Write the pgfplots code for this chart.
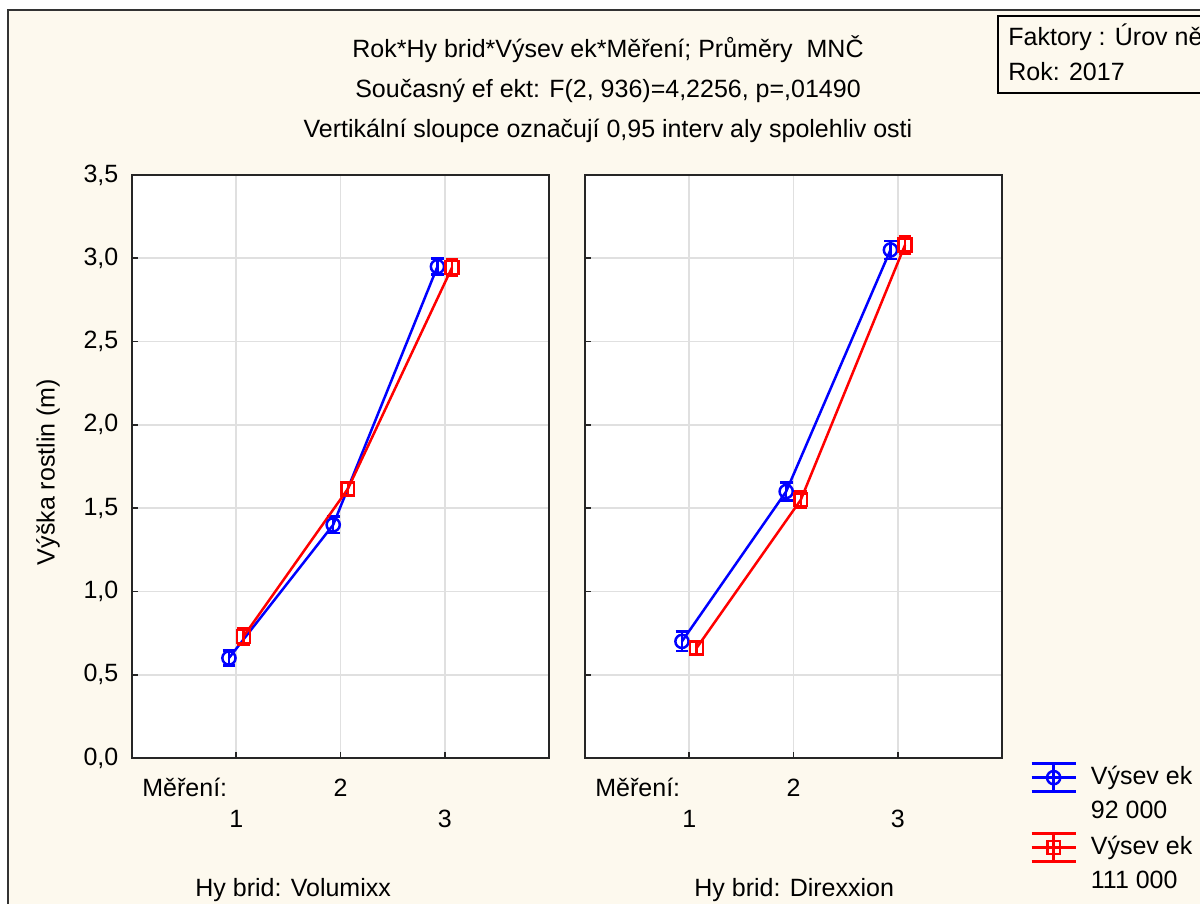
\documentclass[border=0pt]{standalone}
\usepackage{fontspec}
\setmainfont{Liberation Sans}
\usepackage{pgfplots}
\usepackage{pgfplotstable}
\pgfplotsset{compat=1.18}
\definecolor{cream}{RGB}{253,249,238}
\definecolor{gridc}{RGB}{224,224,224}
\newcommand{\fs}{\fontsize{12.5}{16}\selectfont}
\newcommand{\fsl}{\fontsize{12.5}{17}\selectfont}

\pgfplotstableread{
x y e
0.93 0.600 0.044
1.93 1.400 0.050
2.93 2.950 0.048
}\vbl
\pgfplotstableread{
x y e
1.07 0.730 0.048
2.07 1.615 0.040
3.07 2.945 0.050
}\vrl
\pgfplotstableread{
x y e
0.93 0.700 0.058
1.93 1.600 0.054
2.93 3.050 0.053
}\dbl
\pgfplotstableread{
x y e
1.07 0.660 0.042
2.07 1.550 0.050
3.07 3.080 0.052
}\drl

\pgfplotsset{
  panel/.style={
    scale only axis, width=208.5pt, height=291.5pt,
    xmin=0, xmax=4, ymin=0, ymax=3.5,
    xtick={1,2,3}, xticklabels={},
    ytick={0,0.5,1,1.5,2,2.5,3,3.5},
    grid=major, major grid style={gridc, line width=0.9pt},
    axis line style={line width=1.1pt, black!85},
    tick style={line width=0.9pt, black!85},
    tick align=inside, major tick length=3pt,
    xtick pos=bottom, ytick pos=left,
    axis background/.style={fill=white},
    tick label style={font=\fs},
    y tick label style={xshift=-3.3pt, /pgf/number format/.cd, fixed, fixed zerofill, precision=1, use comma, assume math mode=true},
    clip=false,
  },
  ser/.style={#1, line width=1.25pt, mark options={solid, line width=1.25pt},
    error bars/y dir=both, error bars/y explicit,
    error bars/error bar style={line width=1.25pt, #1},
    error bars/error mark options={rotate=90, mark size=3.2pt, line width=1.25pt, #1}},
  errleg/.style={legend image code/.code={%
    \draw[##1,mark=none] (0pt,8pt) -- (22pt,8pt);
    \draw[##1,mark=none] (0pt,15pt) -- (22pt,15pt);
    \draw[##1,mark=none] (0pt,1pt) -- (22pt,1pt);
    \draw[##1,mark=none] (11pt,1pt) -- (11pt,15pt);
    \draw[##1] plot coordinates {(11pt,8pt)};
  }},
}

\begin{document}
\begin{tikzpicture}
\useasboundingbox (0,0) rectangle (600pt,452pt);
\fill[white] (0,0) rectangle (600pt,452pt);
\fill[cream] (4pt,0) rectangle (600pt,447pt);
\draw[line width=1pt, black!80] (4pt,0) -- (4pt,447pt) -- (600pt,447pt);

% factors box
\draw[line width=1.3pt, black, fill=cream] (499pt,405.5pt) rectangle (620pt,444pt);
\node[font=\fs, anchor=base west, inner sep=0pt] at (504pt,429pt) {Faktory : Úrov ně};
\node[font=\fs, anchor=base west, inner sep=0pt] at (504pt,411.5pt) {Rok: 2017};

% titles
\node[font=\fs, anchor=base, inner sep=0pt] at (304pt,423.25pt) {Rok*Hy brid*Výsev ek*Měření; Průměry\ \ MNČ};
\node[font=\fs, anchor=base, inner sep=0pt] at (304pt,403.25pt) {Současný ef ekt: F(2, 936)=4,2256, p=,01490};
\node[font=\fs, anchor=base, inner sep=0pt] at (304pt,383.25pt) {Vertikální sloupce označují 0,95 interv aly spolehliv osti};

% y label
\node[font=\fs, rotate=90, inner sep=0pt] at (24pt,216pt) {Výška rostlin (m)};

\begin{axis}[panel, at={(66pt,73pt)}, anchor=south west]
\addplot[mark=o, mark size=3.3pt, ser=blue] table[x=x, y=y, y error=e] {\vbl};
\addplot[mark=square, mark size=3.2pt, ser=red] table[x=x, y=y, y error=e] {\vrl};
\node[font=\fs, anchor=base west, inner sep=0pt] at (rel axis cs:0,0) [xshift=5pt, yshift=-19.5pt] {Měření:};
\node[font=\fs, anchor=base, inner sep=0pt] at (axis cs:2,0) [yshift=-19.5pt] {2};
\node[font=\fs, anchor=base, inner sep=0pt] at (axis cs:1,0) [yshift=-35pt] {1};
\node[font=\fs, anchor=base, inner sep=0pt] at (axis cs:3,0) [yshift=-35pt] {3};
\node[font=\fs, anchor=base west, inner sep=0pt] at (rel axis cs:0,0) [xshift=31.5pt, yshift=-69.5pt] {Hy brid: Volumixx};
\end{axis}

\begin{axis}[panel, at={(292.5pt,73pt)}, anchor=south west, yticklabels={},
  legend style={at={(1,0)}, anchor=north west, xshift=14pt, yshift=-2pt,
    draw=none, fill=none, inner sep=0pt, font=\fsl,
    nodes={align=left, inner sep=0pt}, row sep=5.5pt, column sep=7pt},
  legend cell align=left]
\addplot[mark=o, mark size=3.3pt, ser=blue, errleg] table[x=x, y=y, y error=e] {\dbl};
\addplot[mark=square, mark size=3.2pt, ser=red, errleg] table[x=x, y=y, y error=e] {\drl};
\addlegendentry{Výsev ek\\92 000}
\addlegendentry{Výsev ek\\111 000}
\node[font=\fs, anchor=base west, inner sep=0pt] at (rel axis cs:0,0) [xshift=5pt, yshift=-19.5pt] {Měření:};
\node[font=\fs, anchor=base, inner sep=0pt] at (axis cs:2,0) [yshift=-19.5pt] {2};
\node[font=\fs, anchor=base, inner sep=0pt] at (axis cs:1,0) [yshift=-35pt] {1};
\node[font=\fs, anchor=base, inner sep=0pt] at (axis cs:3,0) [yshift=-35pt] {3};
\node[font=\fs, anchor=base west, inner sep=0pt] at (rel axis cs:0,0) [xshift=54.5pt, yshift=-69.5pt] {Hy brid: Direxxion};
\end{axis}
\end{tikzpicture}
\end{document}
